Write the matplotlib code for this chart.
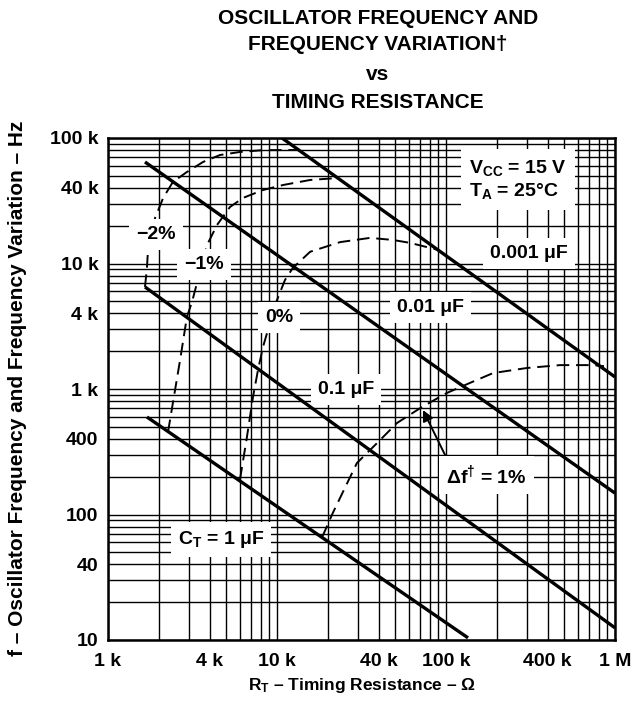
import matplotlib
matplotlib.use("Agg")
import matplotlib.pyplot as plt
from matplotlib.ticker import LogLocator, NullFormatter, FixedLocator, FixedFormatter

plt.rcParams['font.family'] = ['Liberation Sans', 'DejaVu Sans']
plt.rcParams['font.weight'] = 'bold'
plt.rcParams['mathtext.fontset'] = 'custom'
plt.rcParams['mathtext.rm'] = 'Liberation Sans:bold'
plt.rcParams['mathtext.it'] = 'Liberation Sans:bold'
plt.rcParams['mathtext.bf'] = 'Liberation Sans:bold'

# ---- data (R in ohms, f in Hz) ----
# solid lines: timing capacitance
ct_labels = ["0.001 μF", "0.01 μF", "0.1 μF", "1 μF"]
ct_R = [[10.7e3, 1.0e6], [1.655e3, 1.0e6], [1.655e3, 1.0e6], [1.70e3, 135e3]]
ct_f = [[100e3, 1247], [64.4e3, 148], [6.5e3, 12.5], [598, 10.4]]

# dashed curves: frequency variation
dv_m2_R = [1.655e3, 1.70e3, 1.72e3, 1.90e3, 2.12e3, 2.42e3, 2.93e3, 3.65e3, 4.6e3, 6.04e3, 8.26e3, 10.85e3, 13.4e3]
dv_m2_f = [6.5e3, 9.2e3, 12.1e3, 23.1e3, 33.3e3, 44.6e3, 53.6e3, 64.4e3, 73.2e3, 77.4e3, 80.0e3, 80.2e3, 80.2e3]

dv_m1_R = [2.265e3, 2.42e3, 2.67e3, 2.93e3, 3.14e3, 3.85e3, 4.42e3, 5.27e3, 6.29e3, 8.26e3, 10.85e3, 15.7e3, 22.9e3]
dv_m1_f = [454, 773, 1.70e3, 3.75e3, 4.93e3, 14.0e3, 20.3e3, 28.2e3, 33.3e3, 38.5e3, 42.2e3, 46.3e3, 48.0e3]

dv_0_R = [6.04e3, 6.64e3, 7.21e3, 7.72e3, 8.26e3, 8.73e3, 10.0e3, 11.15e3, 12.4e3, 15.7e3, 23.6e3, 35.5e3, 48.6e3, 61.2e3, 88.5e3]
dv_0_f = [190, 415, 863, 1.42e3, 2.16e3, 2.79e3, 5.12e3, 7.39e3, 9.2e3, 12.4e3, 14.8e3, 16.0e3, 15.4e3, 14.6e3, 12.9e3]

dv_p1_R = [18.5e3, 21.4e3, 29.7e3, 34.1e3, 39.1e3, 51.3e3, 72.1e3, 101e3, 139e3, 190e3, 301e3, 473e3, 741e3, 861e3]
dv_p1_f = [66, 103, 257, 309, 371, 536, 719, 929, 1.12e3, 1.34e3, 1.47e3, 1.55e3, 1.55e3, 1.52e3]

x_ticks = [1e3, 4e3, 1e4, 4e4, 1e5, 4e5, 1e6]
x_ticklabels = ["1 k", "4 k", "10 k", "40 k", "100 k", "400 k", "1 M"]
y_ticks = [10, 40, 100, 400, 1e3, 4e3, 1e4, 4e4, 1e5]
y_ticklabels = ["10", "40", "100", "400", "1 k", "4 k", "10 k", "40 k", "100 k"]

# ---- figure ----
fig = plt.figure(figsize=(6.33, 7.11), dpi=100)
ax = fig.add_axes([108/633, 1-640/711, (615-108)/633, (640-138)/711])
ax.set_xscale('log')
ax.set_yscale('log')
ax.set_xlim(1e3, 1e6)
ax.set_ylim(10, 1e5)

ax.xaxis.set_major_locator(FixedLocator(x_ticks))
ax.xaxis.set_major_formatter(FixedFormatter(x_ticklabels))
ax.yaxis.set_major_locator(FixedLocator(y_ticks))
ax.yaxis.set_major_formatter(FixedFormatter(y_ticklabels))
ax.xaxis.set_minor_locator(LogLocator(base=10, subs=range(1, 10), numticks=20))
ax.yaxis.set_minor_locator(LogLocator(base=10, subs=range(1, 10), numticks=20))
ax.xaxis.set_minor_formatter(NullFormatter())
ax.yaxis.set_minor_formatter(NullFormatter())
ax.grid(True, which='both', color='black', linewidth=1.0)
ax.set_axisbelow(True)
ax.tick_params(which='both', length=0)
ax.tick_params(axis='x', pad=9, labelsize=14)
ax.tick_params(axis='y', pad=7, labelsize=14)
for lab in ax.get_xticklabels() + ax.get_yticklabels():
    lab.set_fontweight('bold')
for sp in ax.spines.values():
    sp.set_linewidth(1.8)
    sp.set_zorder(5)

for R, f in zip(ct_R, ct_f):
    ax.plot(R, f, color='black', lw=2.4, solid_capstyle='butt', zorder=3)

for R, f in [(dv_m2_R, dv_m2_f), (dv_m1_R, dv_m1_f), (dv_0_R, dv_0_f), (dv_p1_R, dv_p1_f)]:
    ax.plot(R, f, color='black', lw=1.4, dashes=(6.5, 3.5), zorder=3)

box = dict(facecolor='white', edgecolor='none', pad=5)
tkw = dict(fontsize=14, fontweight='bold', ha='center', va='center', zorder=4, bbox=box)
ax.text(1.92e3, 16.9e3, "−2%", **tkw)
ax.text(3.70e3, 9.9e3, "−1%", **tkw)
ax.text(10.3e3, 3.68e3, "0%", **tkw)
ax.text(310e3, 12.1e3, "0.001 μF", **tkw)
ax.text(81.5e3, 4.42e3, "0.01 μF", **tkw)
ax.text(25.6e3, 982, "0.1 μF", **tkw)
ax.text(4.66e3, 62.7, r"C$_\mathregular{T}$ = 1 μF", **tkw)
ax.text(173e3, 206, r"Δf$^{\dag}$ = 1%", **tkw)
ax.text(137e3, 46.7e3, "V$_\\mathregular{CC}$ = 15 V\nT$_\\mathregular{A}$ = 25°C",
        fontsize=14, fontweight='bold', ha='left', va='center', zorder=4,
        linespacing=1.25, bbox=dict(facecolor='white', edgecolor='none', pad=6))

ax.annotate("", xy=(73.1e3, 680), xytext=(98.7e3, 298),
            arrowprops=dict(arrowstyle='-|>', color='black', lw=1.4,
                            mutation_scale=16, shrinkA=0, shrinkB=0), zorder=4)

ax.set_xlabel(r"R$_\mathregular{T}$ – Timing Resistance – Ω", fontsize=12.5,
              fontweight='bold', labelpad=5)
fig.text(18/633, 1-388/711, "f – Oscillator Frequency and Frequency Variation – Hz",
         rotation=90, ha='center', va='center', fontsize=15, fontweight='bold')

tx = 378/633
for yy, s in [(18, "OSCILLATOR FREQUENCY AND"), (45, "FREQUENCY VARIATION†"),
              (75, "vs"), (103, "TIMING RESISTANCE")]:
    fig.text(tx, 1-yy/711, s, ha='center', va='center', fontsize=15, fontweight='bold')

fig.savefig("out.png", dpi=100)
